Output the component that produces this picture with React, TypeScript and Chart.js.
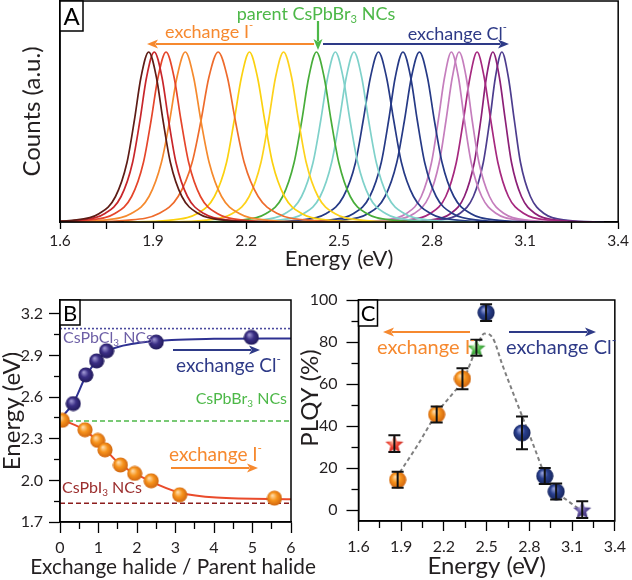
import React, { useEffect, useRef } from 'react';
import { Chart, registerables } from 'chart.js';

Chart.register(...registerables);

const FONT = 'Lato';
const TXT = '#231f20';

// ================= Panel A : normalised PL spectra =================
// shared intensity levels, and for every spectrum the energies (eV) where it crosses them
const specLevels = [0, 0.01, 0.05, 0.15, 0.35, 0.6, 0.85, 1, 0.85, 0.6, 0.35, 0.15, 0.05, 0.01, 0];
const specA01 = [1.501, 1.639, 1.727, 1.779, 1.816, 1.84, 1.861, 1.886, 1.911, 1.932, 1.956, 1.993, 2.046, 2.134, 2.271];
const specA02 = [1.519, 1.657, 1.745, 1.797, 1.834, 1.858, 1.879, 1.904, 1.929, 1.95, 1.974, 2.011, 2.064, 2.152, 2.289];
const specA03 = [1.543, 1.686, 1.777, 1.831, 1.869, 1.894, 1.916, 1.942, 1.968, 1.99, 2.015, 2.053, 2.107, 2.199, 2.341];
const specA04 = [1.584, 1.734, 1.83, 1.887, 1.927, 1.954, 1.977, 2.004, 2.031, 2.054, 2.081, 2.121, 2.178, 2.274, 2.424];
const specA05 = [1.648, 1.813, 1.919, 1.981, 2.026, 2.055, 2.08, 2.11, 2.14, 2.165, 2.194, 2.239, 2.301, 2.407, 2.572];
const specA06 = [1.805, 1.95, 2.043, 2.098, 2.137, 2.162, 2.185, 2.211, 2.237, 2.26, 2.285, 2.324, 2.379, 2.472, 2.617];
const specA07 = [1.922, 2.065, 2.156, 2.21, 2.248, 2.273, 2.295, 2.321, 2.347, 2.369, 2.394, 2.432, 2.486, 2.578, 2.72];
const specA08 = [2.035, 2.175, 2.265, 2.318, 2.355, 2.38, 2.402, 2.427, 2.452, 2.474, 2.499, 2.536, 2.589, 2.679, 2.819];
const specA09 = [2.096, 2.236, 2.326, 2.379, 2.416, 2.441, 2.463, 2.488, 2.513, 2.535, 2.56, 2.597, 2.65, 2.74, 2.88];
const specA10 = [2.156, 2.296, 2.386, 2.439, 2.476, 2.501, 2.523, 2.548, 2.573, 2.595, 2.62, 2.657, 2.71, 2.8, 2.94];
const specA11 = [2.221, 2.366, 2.459, 2.514, 2.553, 2.578, 2.601, 2.627, 2.653, 2.676, 2.701, 2.74, 2.795, 2.888, 3.033];
const specA12 = [2.321, 2.459, 2.547, 2.599, 2.636, 2.66, 2.681, 2.706, 2.731, 2.752, 2.776, 2.813, 2.866, 2.954, 3.091];
const specA13 = [2.36, 2.503, 2.594, 2.648, 2.686, 2.711, 2.733, 2.759, 2.785, 2.807, 2.832, 2.87, 2.924, 3.016, 3.158];
const specA14 = [2.512, 2.637, 2.717, 2.765, 2.798, 2.82, 2.84, 2.862, 2.885, 2.904, 2.926, 2.96, 3.007, 3.087, 3.212];
const specA15 = [2.537, 2.662, 2.742, 2.79, 2.823, 2.845, 2.865, 2.887, 2.91, 2.929, 2.951, 2.985, 3.032, 3.112, 3.237];
const specA16 = [2.581, 2.711, 2.794, 2.844, 2.878, 2.901, 2.922, 2.945, 2.968, 2.989, 3.012, 3.046, 3.096, 3.179, 3.309];
const specA17 = [2.667, 2.785, 2.86, 2.904, 2.936, 2.957, 2.975, 2.996, 3.017, 3.036, 3.056, 3.088, 3.132, 3.208, 3.325];
const specA18 = [2.696, 2.814, 2.889, 2.933, 2.965, 2.986, 3.004, 3.025, 3.046, 3.065, 3.085, 3.117, 3.161, 3.237, 3.354];
const specSeries = [specA01, specA02, specA03, specA04, specA05, specA06, specA07, specA08, specA09,
  specA10, specA11, specA12, specA13, specA14, specA15, specA16, specA17, specA18];
const specColors = ['#5e1c16', '#c8262b', '#e5462b', '#f58a2e', '#ee6b2c', '#fbd10f', '#fdd21c', '#48ad3a', '#7fd1ca',
  '#7fd1ca', '#263a86', '#263a86', '#263a86', '#c57ebd', '#c57ebd', '#a6297f', '#8c2077', '#4d3d8e'];
const aXTicks = [1.6, 1.9, 2.2, 2.5, 2.8, 3.1, 3.4];
const aXMinor = [1.75, 2.05, 2.35, 2.65, 2.95, 3.25];

// ================= Panel B : energy vs. exchange ratio =================
const bClX = [0.345, 0.67, 0.95, 1.21, 2.5, 4.97];
const bClY = [2.554, 2.76, 2.861, 2.934, 2.997, 3.031];
const bIX = [0.06, 0.65, 0.98, 1.17, 1.57, 1.94, 2.37, 3.11, 5.57];
const bIY = [2.433, 2.365, 2.288, 2.22, 2.111, 2.05, 1.997, 1.896, 1.872];
const bClFitX = [0.03, 0.35, 0.67, 0.95, 1.3, 1.9, 2.9, 4.0, 6];
const bClFitY = [2.45, 2.56, 2.75, 2.86, 2.94, 2.985, 3.012, 3.02, 3.023];
const bIFitX = [0.03, 0.65, 1.04, 1.55, 2.33, 3.1, 4.06, 6];
const bIFitY = [2.44, 2.36, 2.264, 2.118, 1.997, 1.913, 1.876, 1.864];
const bRefCl = 3.094;
const bRefBr = 2.428;
const bRefI = 1.835;
const bXTicks = [0, 1, 2, 3, 4, 5, 6];
const bXMinor = [0.5, 1.5, 2.5, 3.5, 4.5, 5.5];
const bYTicks = [1.7, 2.0, 2.3, 2.6, 2.9, 3.2];
const bYMinor = [1.85, 2.15, 2.45, 2.75, 3.05];

// ================= Panel C : PLQY vs. energy =================
const cIX = [1.875, 2.149, 2.33];
const cIY = [14.4, 45.5, 62.5];
const cIErr = [3.8, 3.8, 5.0];
const cClX = [2.496, 2.748, 2.908, 2.988];
const cClY = [94, 36.8, 16.2, 8.8];
const cClErr = [4.0, 7.8, 3.8, 3.8];
const cStarX = [1.852, 2.428, 3.171];
const cStarY = [31.6, 77.3, 0.2];
const cStarErr = [4.0, 3.8, 4.0];
const cFitX = [1.89, 2.016, 2.149, 2.268, 2.337, 2.416, 2.485, 2.542, 2.611, 2.69, 2.759, 2.839, 2.896, 2.976, 3.068, 3.16];
const cFitY = [18, 31, 46, 56, 62, 75, 84, 82, 69, 55, 43, 29, 19, 9.5, 4.5, 0];
const cXTicks = [1.6, 1.9, 2.2, 2.5, 2.8, 3.1, 3.4];
const cXMinor = [1.75, 2.05, 2.35, 2.65, 2.95, 3.25];
const cYTicks = [0, 20, 40, 60, 80, 100];
const cYMinor = [10, 30, 50, 70, 90];

// ================= colours =================
const ORANGE = '#f6892f';
const NAVY = '#2e3a87';
const GREEN = '#4db848';

type Part = { t: string; sub?: boolean; sup?: boolean };
type TextItem = {
  x: number; y: number; parts: Part[]; size: number; color: string;
  align?: 'left' | 'center' | 'right'; fit?: number; rot?: number;
};
type ArrowItem = { x1: number; y1: number; x2: number; y2: number; color: string };
type BoxItem = { x: number; y: number; w: number; h: number; label: string; size: number };

function drawRich(ctx: CanvasRenderingContext2D, it: TextItem) {
  let size = it.size;
  const measure = (sz: number) => it.parts.map((p) => {
    ctx.font = `${p.sub || p.sup ? sz * 0.62 : sz}px ${FONT}`;
    return ctx.measureText(p.t).width;
  });
  let widths = measure(size);
  let total = widths.reduce((a, b) => a + b, 0);
  if (it.fit) {
    size = (size * it.fit) / total;
    widths = measure(size);
    total = widths.reduce((a, b) => a + b, 0);
  }
  ctx.save();
  ctx.translate(it.x, it.y);
  if (it.rot) ctx.rotate(it.rot);
  let x = it.align === 'center' ? -total / 2 : it.align === 'right' ? -total : 0;
  ctx.fillStyle = it.color;
  ctx.textBaseline = 'middle';
  ctx.textAlign = 'left';
  it.parts.forEach((p, i) => {
    ctx.font = `${p.sub || p.sup ? size * 0.62 : size}px ${FONT}`;
    const dy = p.sub ? size * 0.32 : p.sup ? -size * 0.36 : 0;
    ctx.fillText(p.t, x, dy);
    x += widths[i];
  });
  ctx.restore();
}

function drawArrow(ctx: CanvasRenderingContext2D, a: ArrowItem) {
  const ang = Math.atan2(a.y2 - a.y1, a.x2 - a.x1);
  const hl = 11;
  const hw = 4.5;
  const cos = Math.cos(ang);
  const sin = Math.sin(ang);
  ctx.strokeStyle = a.color;
  ctx.fillStyle = a.color;
  ctx.lineWidth = 2.2;
  ctx.beginPath();
  ctx.moveTo(a.x1, a.y1);
  ctx.lineTo(a.x2 - cos * hl * 0.8, a.y2 - sin * hl * 0.8);
  ctx.stroke();
  ctx.beginPath();
  ctx.moveTo(a.x2, a.y2);
  ctx.lineTo(a.x2 - cos * hl - sin * hw, a.y2 - sin * hl + cos * hw);
  ctx.lineTo(a.x2 - cos * hl * 0.75, a.y2 - sin * hl * 0.75);
  ctx.lineTo(a.x2 - cos * hl + sin * hw, a.y2 - sin * hl - cos * hw);
  ctx.closePath();
  ctx.fill();
}

function annotPlugin(id: string, texts: TextItem[], arrows: ArrowItem[], boxes: BoxItem[]) {
  return {
    id,
    afterDatasetsDraw(chart: any) {
      const ctx: CanvasRenderingContext2D = chart.ctx;
      const a = chart.chartArea;
      ctx.save();
      ctx.strokeStyle = '#000';
      ctx.lineWidth = 1.5;
      ctx.strokeRect(a.left, a.top, a.right - a.left, a.bottom - a.top);
      boxes.forEach((b) => {
        ctx.fillStyle = '#fff';
        ctx.fillRect(b.x, b.y, b.w, b.h);
        ctx.strokeStyle = '#000';
        ctx.lineWidth = 1.5;
        ctx.strokeRect(b.x, b.y, b.w, b.h);
        ctx.fillStyle = '#000';
        ctx.font = `${b.size}px ${FONT}`;
        ctx.textAlign = 'center';
        ctx.textBaseline = 'middle';
        ctx.fillText(b.label, b.x + b.w / 2, b.y + b.h / 2 + 1);
      });
      arrows.forEach((ar) => drawArrow(ctx, ar));
      texts.forEach((t) => drawRich(ctx, t));
      ctx.restore();
    },
  };
}

function majorAxis(o: {
  pos: 'bottom' | 'left'; min: number; max: number; ticks: number[]; fmt: (v: number) => string;
  size: number; tl: number; pad: number; fit: number; title?: string; tsize?: number; tpad?: number; showTicks?: boolean;
}) {
  const showTicks = o.showTicks !== false;
  return {
    type: 'linear', position: o.pos, min: o.min, max: o.max, weight: 0,
    afterBuildTicks: (s: any) => { s.ticks = o.ticks.map((v) => ({ value: v })); },
    afterFit: (s: any) => { if (o.pos === 'bottom') s.height = o.fit; else s.width = o.fit; },
    ticks: {
      display: showTicks, autoSkip: false, maxRotation: 0, minRotation: 0, padding: o.pad, color: TXT,
      font: { family: FONT, size: o.size }, callback: (v: any) => o.fmt(Number(v)),
    },
    grid: { display: true, drawOnChartArea: false, drawTicks: showTicks, tickLength: o.tl, tickColor: '#000', tickWidth: 1.3 },
    border: { display: true, color: '#000', width: 1.5 },
    title: o.title
      ? {
          display: true, text: o.title, color: TXT, font: { family: FONT, size: o.tsize, lineHeight: 1 },
          padding: o.pos === 'bottom' ? { top: 0, bottom: o.tpad } : { top: o.tpad, bottom: 0 },
        }
      : { display: false },
  };
}

function minorAxis(pos: 'bottom' | 'left', min: number, max: number, ticks: number[], tl: number) {
  return {
    type: 'linear', position: pos, min, max, weight: -1,
    afterBuildTicks: (s: any) => { s.ticks = ticks.map((v) => ({ value: v })); },
    afterFit: (s: any) => { if (pos === 'bottom') s.height = 0; else s.width = 0; },
    ticks: { display: false },
    grid: { display: true, drawOnChartArea: false, drawTicks: true, tickLength: tl, tickColor: '#000', tickWidth: 1.3 },
    border: { display: false },
  };
}

function makeSphere(d: number, light: string, base: string, dark: string) {
  const c = document.createElement('canvas');
  c.width = d;
  c.height = d;
  const g = c.getContext('2d')!;
  const grad = g.createRadialGradient(d * 0.36, d * 0.32, 0, d * 0.5, d * 0.5, d * 0.55);
  grad.addColorStop(0, light);
  grad.addColorStop(0.45, base);
  grad.addColorStop(1, dark);
  g.fillStyle = grad;
  g.beginPath();
  g.arc(d / 2, d / 2, d / 2 - 0.4, 0, Math.PI * 2);
  g.fill();
  return c;
}

function makeStar(d: number, light: string, base: string, dark: string) {
  const c = document.createElement('canvas');
  c.width = d;
  c.height = d;
  const g = c.getContext('2d')!;
  const R = d / 2 - 0.5;
  const r = R * 0.45;
  g.beginPath();
  for (let i = 0; i < 10; i++) {
    const ang = -Math.PI / 2 + (i * Math.PI) / 5;
    const rr = i % 2 === 0 ? R : r;
    const px = d / 2 + Math.cos(ang) * rr;
    const py = d / 2 + 1 + Math.sin(ang) * rr;
    if (i === 0) g.moveTo(px, py); else g.lineTo(px, py);
  }
  g.closePath();
  const grad = g.createRadialGradient(d * 0.4, d * 0.38, 0, d * 0.5, d * 0.5, d * 0.55);
  grad.addColorStop(0, light);
  grad.addColorStop(0.45, base);
  grad.addColorStop(1, dark);
  g.fillStyle = grad;
  g.fill();
  return c;
}

const pts = (xs: number[], ys: number[]) => xs.map((x, i) => ({ x, y: ys[i] }));
const basePlugins = { legend: { display: false }, tooltip: { enabled: false } };

function configA(): any {
  return {
    type: 'line',
    data: {
      datasets: specSeries.map((xs, i) => ({
        data: xs.map((x, j) => ({ x, y: specLevels[j] })),
        borderColor: specColors[i], borderWidth: 1.7, pointRadius: 0,
        cubicInterpolationMode: 'monotone', fill: false,
      })),
    },
    options: {
      responsive: false, animation: false, devicePixelRatio: 1,
      layout: { padding: { left: 0, right: 10, top: 1, bottom: 308 } },
      plugins: basePlugins,
      scales: {
        x: majorAxis({ pos: 'bottom', min: 1.6, max: 3.4, ticks: aXTicks, fmt: (v) => v.toFixed(1), size: 15.5, tl: 7, pad: 3, fit: 50, title: 'Energy (eV)', tsize: 22, tpad: 2 }),
        x2: minorAxis('bottom', 1.6, 3.4, aXMinor, 7),
        y: majorAxis({ pos: 'left', min: 0, max: 1.3, ticks: [], fmt: () => '', size: 15, tl: 0, pad: 0, fit: 60, title: 'Counts (a.u.)', tsize: 24, tpad: 20, showTicks: false }),
      },
    },
    plugins: [annotPlugin('annotA',
      [
        { x: 316, y: 14, size: 18, color: GREEN, align: 'center', parts: [{ t: 'parent CsPbBr' }, { t: '3', sub: true }, { t: ' NCs' }] },
        { x: 165, y: 32, size: 18, color: ORANGE, parts: [{ t: 'exchange I' }, { t: '-', sup: true }] },
        { x: 507, y: 34, size: 18, color: NAVY, align: 'right', parts: [{ t: 'exchange Cl' }, { t: '-', sup: true }] },
      ],
      [
        { x1: 314, y1: 44, x2: 147, y2: 44, color: ORANGE },
        { x1: 323, y1: 44, x2: 509, y2: 44, color: NAVY },
        { x1: 318, y1: 21, x2: 318, y2: 50, color: GREEN },
      ],
      [{ x: 60, y: 1, w: 23, h: 30, label: 'A', size: 24 }])],
  };
}

function configB(sI: HTMLCanvasElement, sCl: HTMLCanvasElement): any {
  const refLine = (v: number, color: string, dash: number[]) => ({
    data: [{ x: 0, y: v }, { x: 6, y: v }], borderColor: color, borderWidth: 1.6, borderDash: dash, pointRadius: 0, order: 5,
  });
  return {
    type: 'line',
    data: {
      datasets: [
        refLine(bRefCl, '#4b4a9e', [2, 2]),
        refLine(bRefBr, GREEN, [5, 3]),
        refLine(bRefI, '#8c1d1d', [5, 3]),
        { data: pts(bClFitX, bClFitY), borderColor: '#2e3192', borderWidth: 2, pointRadius: 0, cubicInterpolationMode: 'monotone', order: 4 },
        { data: pts(bIFitX, bIFitY), borderColor: '#ea4b2b', borderWidth: 2, pointRadius: 0, cubicInterpolationMode: 'monotone', order: 4 },
        { data: pts(bClX, bClY), showLine: false, pointStyle: sCl, pointRadius: 8, order: 2 },
        { data: pts(bIX, bIY), showLine: false, pointStyle: sI, pointRadius: 8, order: 2 },
      ],
    },
    options: {
      responsive: false, animation: false, devicePixelRatio: 1,
      layout: { padding: { left: 0, right: 341, top: 300, bottom: 0 } },
      plugins: basePlugins,
      scales: {
        x: majorAxis({ pos: 'bottom', min: 0, max: 6, ticks: bXTicks, fmt: (v) => String(v), size: 16, tl: 11, pad: 5, fit: 58 }),
        x2: minorAxis('bottom', 0, 6, bXMinor, 7),
        y: majorAxis({ pos: 'left', min: 1.7, max: 3.3, ticks: bYTicks, fmt: (v) => v.toFixed(1), size: 16, tl: 11, pad: 6, fit: 60, title: 'Energy (eV)', tsize: 24, tpad: 0 }),
        y2: minorAxis('left', 1.7, 3.3, bYMinor, 6),
      },
    },
    plugins: [annotPlugin('annotB',
      [
        { x: 63, y: 338, size: 16, color: '#6d5fa6', parts: [{ t: 'CsPbCl' }, { t: '3', sub: true }, { t: ' NCs' }] },
        { x: 176, y: 366, size: 19, color: NAVY, parts: [{ t: 'exchange Cl' }, { t: '-', sup: true }] },
        { x: 287, y: 399, size: 16, color: GREEN, align: 'right', parts: [{ t: 'CsPbBr' }, { t: '3', sub: true }, { t: ' NCs' }] },
        { x: 169, y: 455, size: 19, color: ORANGE, parts: [{ t: 'exchange I' }, { t: '-', sup: true }] },
        { x: 62, y: 488, size: 16, color: '#9b2d2d', parts: [{ t: 'CsPbI' }, { t: '3', sub: true }, { t: ' NCs' }] },
        { x: 173, y: 567, size: 24, fit: 286, color: TXT, align: 'center', parts: [{ t: 'Exchange halide / Parent halide' }] },
      ],
      [
        { x1: 173, y1: 350, x2: 260, y2: 350, color: NAVY },
        { x1: 171, y1: 468, x2: 258, y2: 468, color: ORANGE },
      ],
      [{ x: 60, y: 300, w: 20, h: 25, label: 'B', size: 22 }])],
  };
}

function configC(sI: HTMLCanvasElement, sCl: HTMLCanvasElement, stars: HTMLCanvasElement[]): any {
  const errPts: { x: number; y: number | null }[] = [];
  const groups: [number[], number[], number[]][] = [[cIX, cIY, cIErr], [cClX, cClY, cClErr], [cStarX, cStarY, cStarErr]];
  groups.forEach(([xs, ys, es]) => xs.forEach((x, i) => {
    errPts.push({ x, y: ys[i] - es[i] }, { x, y: ys[i] + es[i] }, { x, y: null });
  }));
  return {
    type: 'line',
    data: {
      datasets: [
        { data: pts(cFitX, cFitY), borderColor: '#808080', borderWidth: 2, borderDash: [4, 3], pointRadius: 0, cubicInterpolationMode: 'monotone', order: 4 },
        { data: pts(cIX, cIY), showLine: false, pointStyle: sI, pointRadius: 9, order: 3 },
        { data: pts(cClX, cClY), showLine: false, pointStyle: sCl, pointRadius: 9, order: 3 },
        { data: pts(cStarX, cStarY), showLine: false, pointStyle: stars, pointRadius: 9, order: 3 },
        { data: errPts, borderColor: '#111', borderWidth: 2, pointStyle: 'line', pointRadius: 6, pointBorderWidth: 2, pointBorderColor: '#111', spanGaps: false, order: 1 },
      ],
    },
    options: {
      responsive: false, animation: false, devicePixelRatio: 1,
      layout: { padding: { left: 298.5, right: 10, top: 300, bottom: 1 } },
      plugins: basePlugins,
      scales: {
        x: majorAxis({ pos: 'bottom', min: 1.6, max: 3.4, ticks: cXTicks, fmt: (v) => v.toFixed(1), size: 16, tl: 10, pad: 6, fit: 58, title: 'Energy (eV)', tsize: 24, tpad: 1 }),
        x2: minorAxis('bottom', 1.6, 3.4, cXMinor, 7),
        y: majorAxis({ pos: 'left', min: -5.2, max: 100, ticks: cYTicks, fmt: (v) => String(v), size: 16, tl: 12, pad: 9, fit: 60 }),
        y2: minorAxis('left', -5.2, 100, cYMinor, 7),
      },
    },
    plugins: [annotPlugin('annotC',
      [
        { x: 377, y: 348, size: 20, color: ORANGE, parts: [{ t: 'exchange I' }, { t: '-', sup: true }] },
        { x: 506, y: 348, size: 20, color: NAVY, parts: [{ t: 'exchange Cl' }, { t: '-', sup: true }] },
        { x: 310.5, y: 398, size: 24, color: TXT, align: 'center', rot: -Math.PI / 2, parts: [{ t: 'PLQY (%)' }] },
      ],
      [
        { x1: 470, y1: 332, x2: 383, y2: 332, color: ORANGE },
        { x1: 509, y1: 332, x2: 596, y2: 332, color: NAVY },
      ],
      [{ x: 358.5, y: 300, w: 19, h: 26, label: 'C', size: 22 }])],
  };
}

export default function App() {
  const refA = useRef<HTMLCanvasElement>(null);
  const refB = useRef<HTMLCanvasElement>(null);
  const refC = useRef<HTMLCanvasElement>(null);

  useEffect(() => {
    Chart.defaults.font.family = FONT;
    const sphI16 = makeSphere(16, '#ffe3b8', '#f7941d', '#c75a0b');
    const sphCl16 = makeSphere(16, '#a9a2dc', '#3b2f85', '#1b1550');
    const sphI18 = makeSphere(18, '#ffe3b8', '#f7941d', '#c75a0b');
    const sphCl18 = makeSphere(18, '#9fa9e0', '#29408f', '#131f50');
    const stars = [
      makeStar(20, '#ffc0a8', '#ee4030', '#b0201a'),
      makeStar(20, '#c8f0b8', '#4db848', '#25802a'),
      makeStar(20, '#b8b0e0', '#5a4a9a', '#2e2466'),
    ];
    const charts = [
      new Chart(refA.current!, configA()),
      new Chart(refB.current!, configB(sphI16, sphCl16)),
      new Chart(refC.current!, configC(sphI18, sphCl18, stars)),
    ];
    return () => charts.forEach((c) => c.destroy());
  }, []);

  const cs: React.CSSProperties = { position: 'absolute', left: 0, top: 0, width: 632, height: 580 };
  return (
    <div style={{ position: 'fixed', left: 0, top: 0, width: 632, height: 580, background: '#fff' }}>
      <canvas ref={refA} width={632} height={580} style={cs} />
      <canvas ref={refB} width={632} height={580} style={cs} />
      <canvas ref={refC} width={632} height={580} style={cs} />
    </div>
  );
}
